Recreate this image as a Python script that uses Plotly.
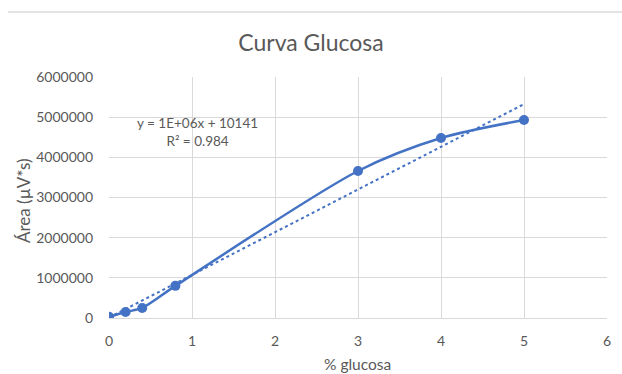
import plotly.graph_objects as go

# Calibration data: glucose concentration (%) vs. peak area (µV*s)
glucose_pct = [0, 0.2, 0.4, 0.8, 3, 4, 5]
peak_area = [30000, 150000, 250000, 800000, 3660000, 4480000, 4930000]

# Linear trendline parameters (shown in the equation label)
trend_slope = 1063000
trend_intercept = 10141
trend_r2 = 0.984
trend_x = [0, 5]

x_ticks = [0, 1, 2, 3, 4, 5, 6]
y_ticks = [0, 1000000, 2000000, 3000000, 4000000, 5000000, 6000000]

BLUE = "#4472C4"
GRID = "#d9d9d9"
TEXT = "#595959"
FONT = "Lato, 'Open Sans', sans-serif"

W, H = 622, 374
L, R, T, B = 109, 15, 77, 56

fig = go.Figure()

fig.add_trace(go.Scatter(
    x=trend_x,
    y=[trend_slope * v + trend_intercept for v in trend_x],
    mode="lines",
    line=dict(color=BLUE, width=2, dash="dot"),
    hoverinfo="skip",
    showlegend=False,
))

fig.add_trace(go.Scatter(
    x=glucose_pct,
    y=peak_area,
    mode="lines+markers",
    line=dict(color=BLUE, width=2.5, shape="spline", smoothing=0.8),
    marker=dict(color=BLUE, size=10),
    showlegend=False,
))

pw, ph = W - L - R, H - T - B

fig.add_annotation(
    x=(197 - L) / pw, y=(H - B - 132) / ph, xref="paper", yref="paper",
    xanchor="center", yanchor="middle",
    text=f"y = 1E+06x + {trend_intercept}<br>R² = {trend_r2}",
    showarrow=False, align="center",
    font=dict(family=FONT, size=13.5, color=TEXT),
)

# axis titles
fig.add_annotation(
    x=(357 - L) / pw, y=(H - B - 364) / ph, xref="paper", yref="paper",
    xanchor="center", yanchor="middle", showarrow=False,
    text="% glucosa", font=dict(family=FONT, size=15.5, color=TEXT),
)
fig.add_annotation(
    x=(23 - L) / pw, y=(H - B - 201) / ph, xref="paper", yref="paper",
    xanchor="center", yanchor="middle", showarrow=False, textangle=-90,
    text="Área (µV*s)", font=dict(family=FONT, size=17, color=TEXT),
)

# thin ruler line across the top of the sheet
fig.add_shape(type="line", xref="paper", yref="paper",
              x0=(8 - L) / pw, x1=(622 - L) / pw,
              y0=(H - B - 12) / ph, y1=(H - B - 12) / ph,
              line=dict(color="#e3e3e3", width=2))

fig.update_layout(
    width=W, height=H,
    margin=dict(l=L, r=R, t=T, b=B, autoexpand=False),
    paper_bgcolor="white", plot_bgcolor="white",
    title=dict(text="Curva Glucosa", x=0.5, xanchor="center",
               y=1 - 43 / H, yanchor="middle",
               font=dict(family=FONT, size=23, color=TEXT)),
    font=dict(family=FONT, color=TEXT, size=14),
    xaxis=dict(
        range=[0, 6], tickvals=x_ticks, ticktext=[str(v) for v in x_ticks],
        showgrid=True, gridcolor=GRID, gridwidth=1,
        zeroline=False, showline=True, linecolor=GRID, mirror=False,
        ticks="", ticklen=0, ticklabelstandoff=10, automargin=False,
        tickfont=dict(family=FONT, size=14, color=TEXT),
    ),
    yaxis=dict(
        range=[0, 6000000], tickvals=y_ticks, ticktext=[str(v) for v in y_ticks],
        showgrid=True, gridcolor=GRID, gridwidth=1,
        zeroline=False, showline=False,
        ticks="", ticklen=0, ticklabelstandoff=15, automargin=False,
        tickfont=dict(family=FONT, size=14, color=TEXT),
    ),
)

fig.write_html("out.html")
